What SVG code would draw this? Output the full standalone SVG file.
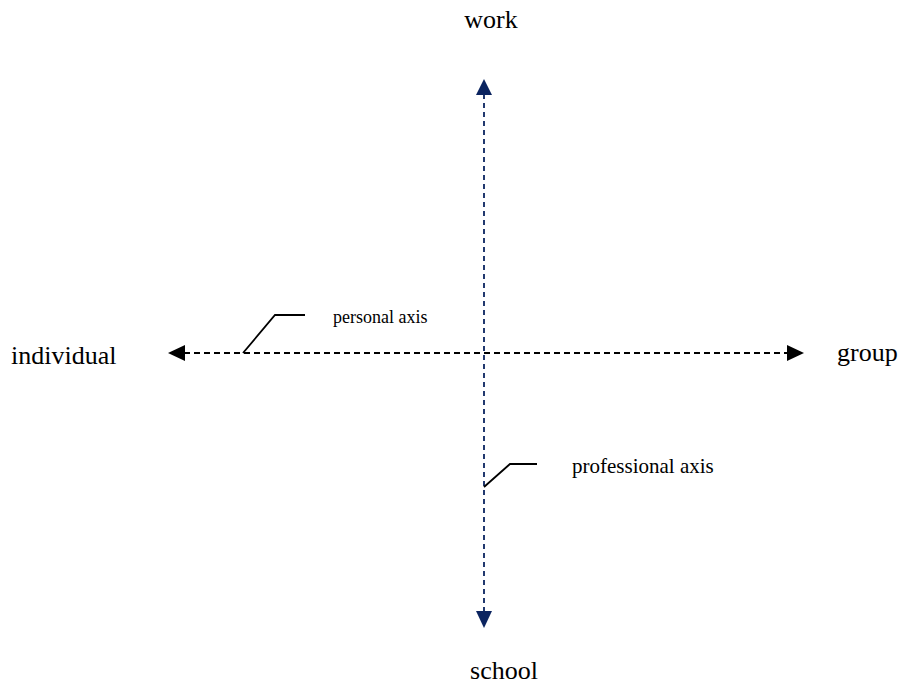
<svg xmlns="http://www.w3.org/2000/svg" width="900" height="686" viewBox="0 0 900 686">
<style>
.lbl{font-family:"Liberation Serif","Times New Roman",serif;fill:#000}
.big{font-size:26px}
.v{stroke:#0b2460;stroke-width:1.8;stroke-dasharray:5 4;fill:none}
.h{stroke:#000;stroke-width:1.8;stroke-dasharray:6 4;fill:none}
.c{stroke:#000;stroke-width:1.8;fill:none}
</style>
<rect width="900" height="686" fill="#fff"/>
<g id="connectors">
<line class="v" x1="484" y1="94" x2="484" y2="612"/>
<polygon points="484,79 476,95 492,95" fill="#0b2460"/>
<polygon points="484,628 476,611 492,611" fill="#0b2460"/>
<line class="h" x1="184" y1="353" x2="788" y2="353"/>
<polygon points="168,353 185,345 185,361" fill="#000"/>
<polygon points="804,353 787,345 787,361" fill="#000"/>
<polyline class="c" points="243,353 275,315 305,315"/>
<polyline class="c" points="484,487 510,464 537,464"/>
</g>
<g id="work"><text class="lbl big" x="491" y="28" text-anchor="middle">work</text></g>
<g id="school"><text class="lbl big" x="504" y="679" text-anchor="middle">school</text></g>
<g id="individual"><text class="lbl big" x="11" y="364">individual</text></g>
<g id="group"><text class="lbl big" x="837" y="361">group</text></g>
<g id="personal-axis"><text class="lbl" x="333" y="323" font-size="18">personal axis</text></g>
<g id="professional-axis"><text class="lbl" x="572" y="473" font-size="21">professional axis</text></g>
</svg>
